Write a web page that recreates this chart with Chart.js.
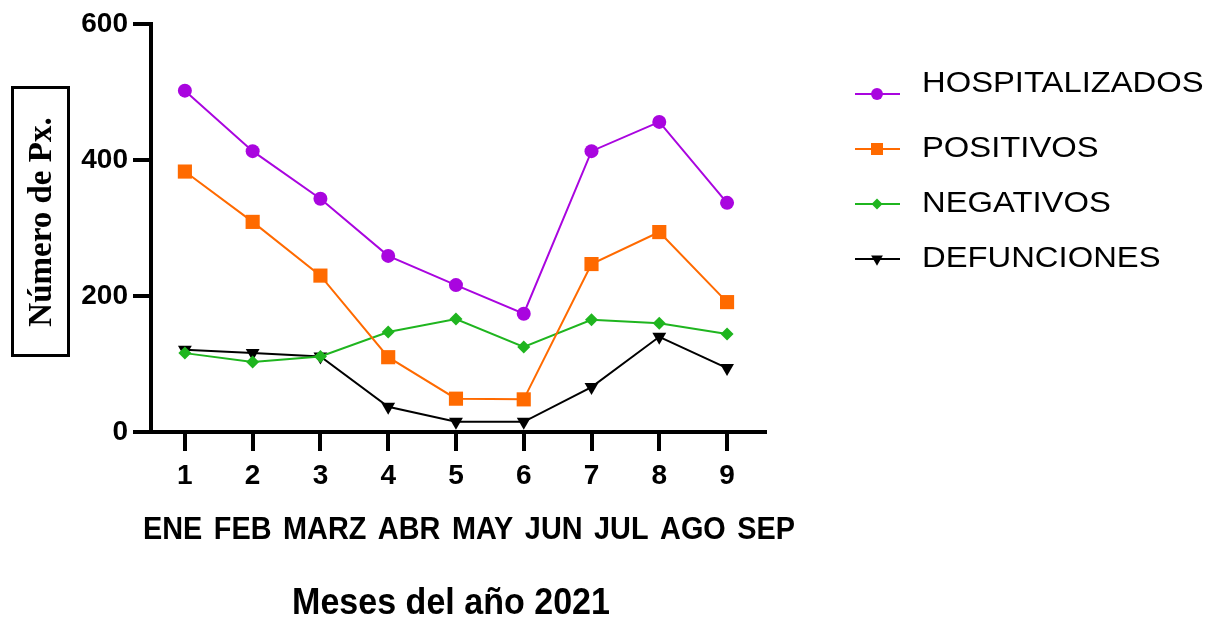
<!DOCTYPE html>
<html>
<head>
<meta charset="utf-8">
<script src="https://cdn.jsdelivr.net/npm/chart.js@4/dist/chart.umd.min.js"></script>
<style>
  html, body { margin: 0; padding: 0; background: #fff; }
  #wrap { width: 1223px; height: 619px; position: relative; }
</style>
</head>
<body>
<div id="wrap"><canvas id="c" width="1223" height="619"></canvas></div>
<script>
// Month index on the x axis and its Spanish abbreviation
const months = [1, 2, 3, 4, 5, 6, 7, 8, 9];
const monthNames = ['ENE', 'FEB', 'MARZ', 'ABR', 'MAY', 'JUN', 'JUL', 'AGO', 'SEP'];
const yTicks = [0, 200, 400, 600];

// Patients per month, 2021
const hospitalizados = [502, 413, 343, 259, 216, 174, 413, 456, 337];
const positivos      = [383, 309, 230, 110, 49, 48, 247, 294, 191];
const negativos      = [116, 103, 111, 147, 166, 125, 165, 160, 144];
const defunciones    = [121, 116, 111, 37, 15, 15, 66, 140, 94];

const seriesNames = ['HOSPITALIZADOS', 'POSITIVOS', 'NEGATIVOS', 'DEFUNCIONES'];

const PURPLE = '#a905df';
const ORANGE = '#ff6a00';
const GREEN  = '#1fb51f';
const BLACK  = '#000000';

const SANS = "'Liberation Sans', Arial, sans-serif";

function toPoints(values) {
  return months.map((m, i) => ({ x: m, y: values[i] }));
}

function makeSet(label, values, color, style, radius, rotation) {
  return {
    label,
    data: toPoints(values),
    borderColor: color,
    backgroundColor: color,
    borderWidth: 2,
    pointStyle: style,
    pointRadius: radius,
    pointHoverRadius: radius,
    pointBorderWidth: 0,
    pointRotation: rotation || 0,
    tension: 0
  };
}

// Draws condensed (or widened) text by scaling the canvas horizontally
function narrowText(ctx, text, x, y, sx) {
  ctx.save();
  ctx.translate(x, y);
  ctx.scale(sx, 1);
  ctx.fillText(text, 0, 0);
  ctx.restore();
}

// Extra text drawn around the plot: month names, axis titles, boxed y title and legend
const decorations = {
  id: 'decorations',
  afterDraw(chart) {
    const ctx = chart.ctx;
    const xs = chart.scales.x;
    ctx.save();
    ctx.fillStyle = '#000';

    // Month names, justified across the row under the tick numbers
    const squeeze = 0.93;
    ctx.font = 'bold 31px ' + SANS;
    ctx.textBaseline = 'middle';
    ctx.textAlign = 'left';
    const rowLeft = xs.left - 8;
    const rowRight = xs.right + 30;
    const widths = monthNames.map(n => ctx.measureText(n).width * squeeze);
    const total = widths.reduce((a, b) => a + b, 0);
    const gap = (rowRight - rowLeft - total) / (monthNames.length - 1);
    let cx = rowLeft;
    monthNames.forEach((n, i) => {
      narrowText(ctx, n, cx, 530, squeeze);
      cx += widths[i] + gap;
    });

    // X axis title
    ctx.font = 'bold 37px ' + SANS;
    ctx.textAlign = 'center';
    narrowText(ctx, 'Meses del año 2021', 451, 604, 0.92);

    // Y axis title inside a box
    ctx.lineWidth = 3;
    ctx.strokeStyle = '#000';
    ctx.strokeRect(12.5, 87.5, 56, 268);
    ctx.save();
    ctx.translate(42, 222);
    ctx.rotate(-Math.PI / 2);
    ctx.font = "bold 33px 'Liberation Serif', 'Times New Roman', serif";
    ctx.textAlign = 'center';
    ctx.textBaseline = 'middle';
    ctx.fillText('Número de Px.', 0, 0);
    ctx.restore();

    // Legend: line with marker, then the series name
    chart.data.datasets.forEach((ds, i) => {
      const ly = 94 + i * 55;
      ctx.strokeStyle = ds.borderColor;
      ctx.lineWidth = 2;
      ctx.beginPath();
      ctx.moveTo(855, ly);
      ctx.lineTo(900, ly);
      ctx.stroke();
      ctx.fillStyle = ds.backgroundColor;
      Chart.helpers.drawPoint(ctx, {
        pointStyle: ds.pointStyle,
        rotation: ds.pointRotation,
        radius: ds.pointRadius * 0.85,
        borderWidth: 0
      }, 877, ly);

      ctx.fillStyle = '#000';
      ctx.font = '29px ' + SANS;
      ctx.textAlign = 'left';
      ctx.textBaseline = 'middle';
      const ty = i === 0 ? ly - 10 : ly;
      narrowText(ctx, seriesNames[i], 922, ty, 1.13);
    });

    ctx.restore();
  }
};

new Chart(document.getElementById('c'), {
  type: 'line',
  data: {
    datasets: [
      makeSet(seriesNames[0], hospitalizados, PURPLE, 'circle', 7),
      makeSet(seriesNames[1], positivos, ORANGE, 'rect', 10),
      makeSet(seriesNames[2], negativos, GREEN, 'rectRot', 6.5),
      makeSet(seriesNames[3], defunciones, BLACK, 'triangle', 8, 180)
    ]
  },
  options: {
    responsive: false,
    animation: false,
    layout: { padding: { left: 0, right: 458, top: 24, bottom: 0 } },
    plugins: {
      legend: { display: false },
      tooltip: { enabled: false }
    },
    scales: {
      x: {
        type: 'linear',
        min: 0.5,
        max: 9.56,
        afterBuildTicks(scale) { scale.ticks = months.map(v => ({ value: v })); },
        afterFit(scale) { scale.height = 187; },
        border: { display: true, color: '#000', width: 4 },
        grid: { drawOnChartArea: false, color: '#000', tickLength: 19, lineWidth: 4, tickColor: '#000' },
        ticks: {
          color: '#000',
          padding: 8,
          font: { family: SANS, size: 28, weight: 'bold' },
          callback: v => String(v)
        }
      },
      y: {
        min: 0,
        max: 600,
        afterBuildTicks(scale) { scale.ticks = yTicks.map(v => ({ value: v })); },
        afterFit(scale) { scale.width = 151; },
        border: { display: true, color: '#000', width: 4 },
        grid: { drawOnChartArea: false, color: '#000', tickLength: 18, lineWidth: 4, tickColor: '#000' },
        ticks: {
          color: '#000',
          padding: 5,
          font: { family: SANS, size: 28, weight: 'bold' }
        }
      }
    }
  },
  plugins: [decorations]
});
</script>
</body>
</html>
